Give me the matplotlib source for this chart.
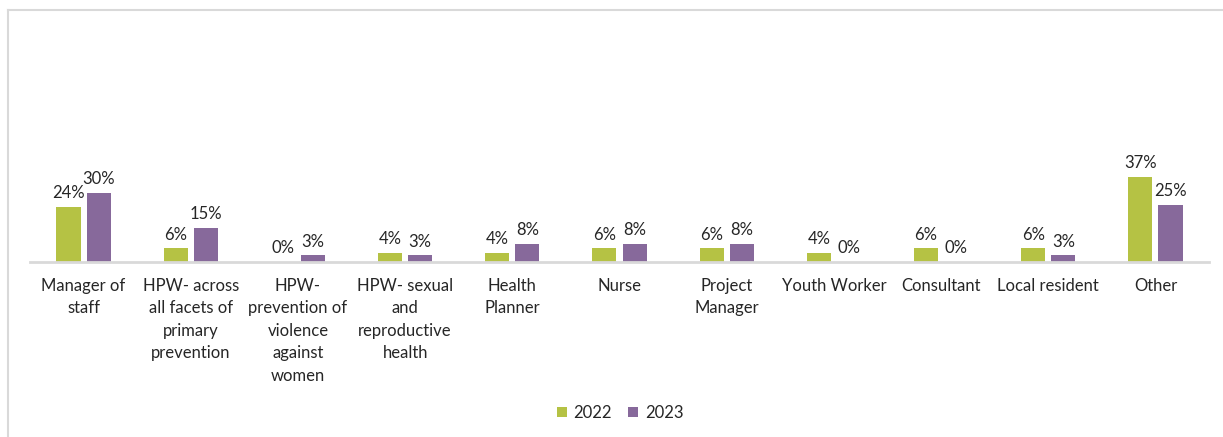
import numpy as np
import matplotlib.pyplot as plt
from matplotlib.lines import Line2D

categories = [
    'Manager of\nstaff',
    'HPW- across\nall facets of\nprimary\nprevention',
    'HPW-\nprevention of\nviolence\nagainst\nwomen',
    'HPW- sexual\nand\nreproductive\nhealth',
    'Health\nPlanner',
    'Nurse',
    'Project\nManager',
    'Youth Worker',
    'Consultant',
    'Local resident',
    'Other',
]
share_2022 = [24, 6, 0, 4, 4, 6, 6, 4, 6, 6, 37]
share_2023 = [30, 15, 3, 3, 8, 8, 8, 0, 0, 3, 25]
series_labels = ['2022', '2023']

green = '#b5c244'
purple = '#87699b'
text_col = '#262626'

plt.rcParams['font.family'] = ['Lato', 'DejaVu Sans']

fig = plt.figure(figsize=(12.23, 4.37), dpi=100)
ax = fig.add_axes([30 / 1223, 175 / 437, 1179 / 1223, 230 / 437])

x = np.arange(len(categories))
width = 0.225
gap = 0.028

bars_a = ax.bar(x - width / 2 - gap, share_2022, width, color=green, label=series_labels[0])
bars_b = ax.bar(x + width / 2 + gap, share_2023, width, color=purple, label=series_labels[1])

for bars, vals in [(bars_a, share_2022), (bars_b, share_2023)]:
    for b, v in zip(bars, vals):
        ax.annotate(f'{v}%', (b.get_x() + b.get_width() / 2, v),
                    xytext=(0, 4), textcoords='offset points',
                    ha='center', va='bottom', fontsize=12, color=text_col)

ax.set_xlim(-0.5, len(categories) - 0.5)
ax.set_ylim(0, 100)
ax.set_xticks(x)
ax.set_xticklabels(categories, fontsize=12, color=text_col, linespacing=1.5, va='top')
ax.tick_params(axis='x', length=0, pad=11.5)
ax.set_yticks([])
for side in ['top', 'right', 'left']:
    ax.spines[side].set_visible(False)
ax.spines['bottom'].set_color('#d9d9d9')
ax.spines['bottom'].set_linewidth(2)

fig.legend(loc='center', bbox_to_anchor=(620 / 1223, 1 - 413 / 437), ncol=2,
           frameon=False, fontsize=12, handlelength=0.6, handleheight=0.6,
           handletextpad=0.4, columnspacing=1.0, labelcolor=text_col)

# chart frame, clipped on the right and bottom
fig.add_artist(Line2D([7.5 / 1223, 1], [1 - 9.5 / 437] * 2, color='#d9d9d9', lw=1.5,
                      transform=fig.transFigure))
fig.add_artist(Line2D([7.5 / 1223] * 2, [0, 1 - 9.5 / 437], color='#d9d9d9', lw=1.5,
                      transform=fig.transFigure))

fig.savefig('out.png', dpi=100)
